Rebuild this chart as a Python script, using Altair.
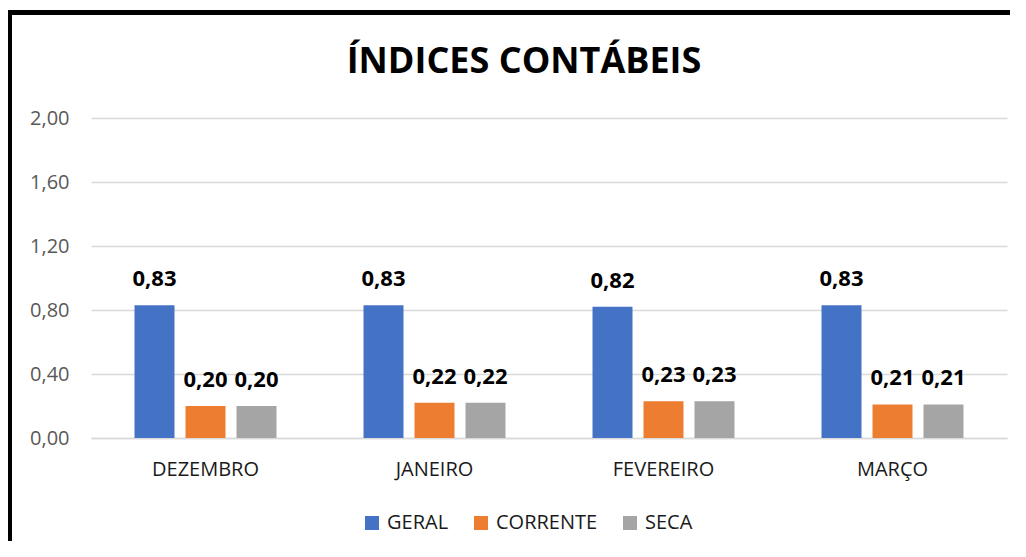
import altair as alt
import pandas as pd

titulo = "ÍNDICES CONTÁBEIS"
meses = ["DEZEMBRO", "JANEIRO", "FEVEREIRO", "MARÇO"]
series = ["GERAL", "CORRENTE", "SECA"]
geral = [0.83, 0.83, 0.82, 0.83]
corrente = [0.20, 0.22, 0.23, 0.21]
seca = [0.20, 0.22, 0.23, 0.21]
cores = ["#4472C4", "#ED7D31", "#A5A5A5"]
y_ticks = [0.0, 0.4, 0.8, 1.2, 1.6, 2.0]

rows = []
for i, m in enumerate(meses):
    for s, vals in zip(series, [geral, corrente, seca]):
        rows.append({"mes": m, "serie": s, "valor": vals[i]})
df = pd.DataFrame(rows)

FONT = "Open Sans"

base = alt.Chart(df).encode(
    x=alt.X("mes:N", sort=meses, title=None,
            scale=alt.Scale(paddingInner=0.38, paddingOuter=0.19),
            axis=alt.Axis(labelAngle=0, labelFontSize=20, labelColor="#1a1a1a",
                          labelFont=FONT, labelPadding=21, ticks=False,
                          domainColor="#D9D9D9", domainWidth=1.5)),
    xOffset=alt.XOffset("serie:N", sort=series,
                        scale=alt.Scale(paddingInner=0.216, paddingOuter=0)),
)

bars = base.mark_bar().encode(
    y=alt.Y("valor:Q", title=None,
            scale=alt.Scale(domain=[0, 2]),
            axis=alt.Axis(values=y_ticks, labelExpr="replace(format(datum.value, '.2f'), '.', ',')",
                          labelFontSize=20, labelColor="#595959", labelFont=FONT,
                          labelPadding=22, ticks=False, domain=False,
                          gridColor="#D9D9D9", gridWidth=1.5)),
    color=alt.Color("serie:N", sort=series,
                    scale=alt.Scale(domain=series, range=cores),
                    legend=alt.Legend(title=None, orient="none", direction="horizontal",
                                      legendX=271, legendY=395,
                                      symbolType="square", symbolSize=196,
                                      symbolStrokeWidth=0, symbolOpacity=1,
                                      labelFontSize=20, labelFont=FONT,
                                      labelColor="#1a1a1a", labelOffset=5,
                                      columnPadding=22)),
)

labels = base.transform_calculate(
    rotulo="replace(format(datum.valor, '.2f'), '.', ',')"
).mark_text(baseline="alphabetic", dy=-19, fontSize=22, fontWeight="bold",
            font=FONT, color="#000000").encode(
    y=alt.Y("valor:Q"),
    text="rotulo:N",
)

title_layer = alt.Chart(pd.DataFrame({"t": [titulo]})).mark_text(
    baseline="alphabetic", align="center", fontSize=36, fontWeight="bold",
    font=FONT, color="#000000").encode(
    x=alt.value(433), y=alt.value(-45), text="t:N")

border_v = alt.Chart(df).mark_rule(color="#000000", strokeWidth=5).encode(
    x=alt.value(-82), y=alt.value(-108), y2=alt.value(470))
border_h = alt.Chart(df).mark_rule(color="#000000", strokeWidth=5).encode(
    x=alt.value(-84.5), x2=alt.value(940), y=alt.value(-105.5))

chart = alt.layer(bars, labels, title_layer, border_v, border_h).properties(
    width=916, height=320,
    autosize=alt.AutoSizeParams(type="none"),
    padding={"left": 83, "top": 110, "right": 3, "bottom": 103},
).configure_view(stroke=None)

chart.save("out.html", embed_options={"renderer": "svg", "actions": False})
